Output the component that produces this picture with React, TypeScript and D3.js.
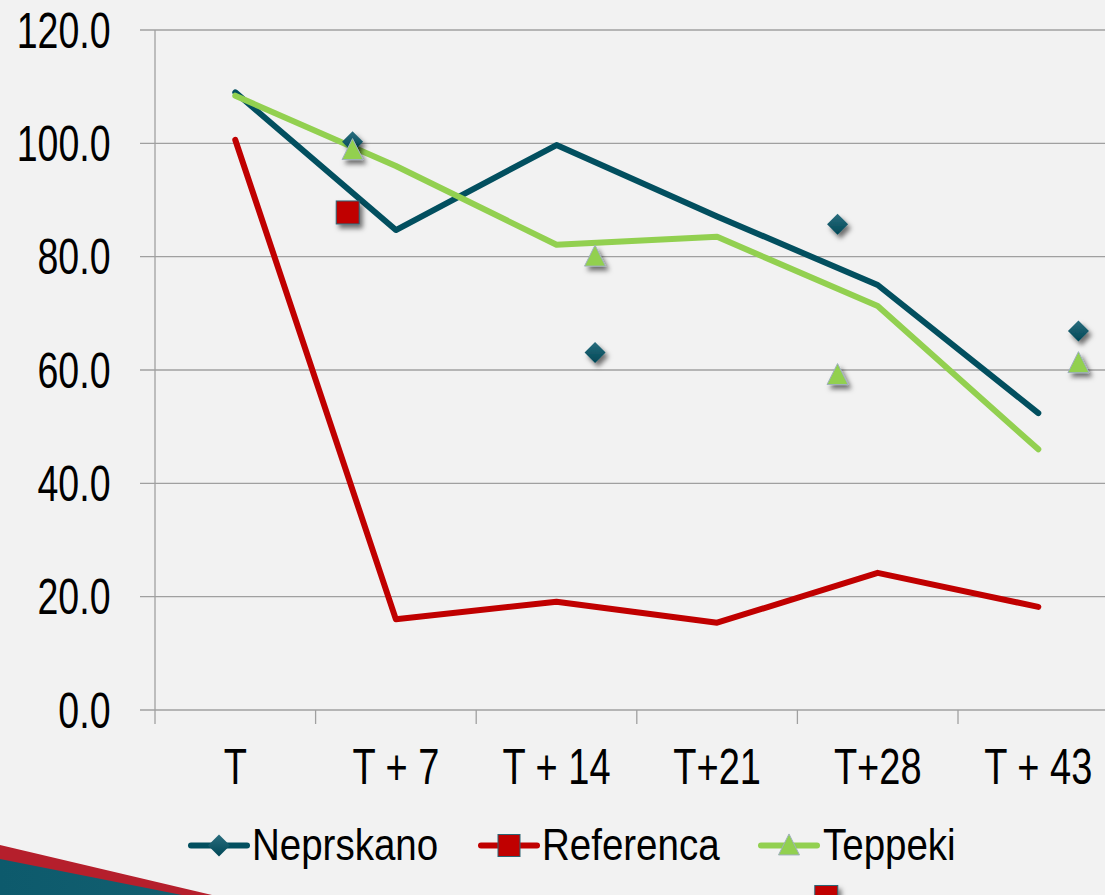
import React from "react";
import * as d3 from "d3";

const categories = ["T", "T + 7", "T + 14", "T+21", "T+28", "T + 43"];
const neprskanoLine = [109.0, 84.7, 99.7, 87.1, 75.0, 52.4];
const referencaLine = [100.6, 16.0, 19.1, 15.4, 24.2, 18.2];
const teppekiLine = [108.4, 96.0, 82.1, 83.5, 71.3, 46.0];

// scatter markers: position in category units (0 = first category centre), value
const neprskanoMarkPos = [0.73, 2.24, 3.75, 5.25];
const neprskanoMarkVal = [100.3, 63.1, 85.7, 66.9];
const referencaMarkPos = [0.7, 3.68];
const referencaMarkVal = [87.8, -33];
const teppekiMarkPos = [0.73, 2.24, 3.75, 5.25];
const teppekiMarkVal = [98.8, 80.0, 59.1, 61.2];

const yTicks = [0, 20, 40, 60, 80, 100, 120];
const legendNames = ["Neprskano", "Referenca", "Teppeki"];

const W = 1105;
const H = 895;
const TEAL = "#024f5f";
const RED = "#c00000";
const GREEN = "#92d050";
const FONT = "'Liberation Sans', Arial, sans-serif";

export default function App() {
  const x0 = 155;
  const bandW = 160.6;
  const x = d3
    .scaleBand<string>()
    .domain(categories)
    .range([x0, x0 + bandW * categories.length])
    .paddingInner(0)
    .paddingOuter(0);
  const xi = d3
    .scaleLinear()
    .domain([0, categories.length - 1])
    .range([x(categories[0])! + bandW / 2, x(categories[categories.length - 1])! + bandW / 2]);
  const y = d3.scaleLinear().domain([0, 120]).range([710, 30]);

  const line = d3
    .line<number>()
    .x((_, i) => xi(i))
    .y((d) => y(d));

  const diamond = (cx: number, cy: number, r = 10.5) =>
    `M${cx},${cy - r}L${cx + r},${cy}L${cx},${cy + r}L${cx - r},${cy}Z`;
  const triangle = (cx: number, cy: number, s = 21) =>
    `M${cx},${cy - s * 0.55}L${cx + s / 2},${cy + s * 0.45}L${cx - s / 2},${cy + s * 0.45}Z`;

  const boundaries = d3.range(categories.length + 1).map((i) => x0 + i * bandW);

  const legendItems = [
    { name: legendNames[0], lx: 191, tx: 252, color: TEAL, mark: "diamond" },
    { name: legendNames[1], lx: 481, tx: 542, color: RED, mark: "square" },
    { name: legendNames[2], lx: 761, tx: 823, color: GREEN, mark: "triangle" },
  ];

  return (
    <svg
      width={W}
      height={H}
      style={{ position: "absolute", left: 0, top: 0, display: "block" }}
    >
      <defs>
        <filter id="shadow" x="-60%" y="-60%" width="220%" height="220%">
          <feDropShadow dx="3" dy="4" stdDeviation="2.5" floodColor="#000" floodOpacity="0.55" />
        </filter>
        <linearGradient id="dgrad" x1="0" y1="0" x2="0" y2="1">
          <stop offset="0" stopColor="#2a6d7e" />
          <stop offset="1" stopColor="#004756" />
        </linearGradient>
        <linearGradient id="tealband" x1="0" y1="0" x2="1" y2="0">
          <stop offset="0" stopColor="#0d5a6c" />
          <stop offset="1" stopColor="#125f70" />
        </linearGradient>
      </defs>
      <rect x={0} y={0} width={W} height={H} fill="#f2f2f2" />

      {/* decorative corner */}
      <path d="M0,845L212,895L0,895Z" fill="#b51f2c" />
      <path d="M0,859L182,895L0,895Z" fill="url(#tealband)" />

      {/* gridlines */}
      {yTicks.map((t) => (
        <line
          key={t}
          x1={140}
          x2={W}
          y1={y(t)}
          y2={y(t)}
          stroke="#a0a0a0"
          strokeWidth={1.3}
        />
      ))}
      {/* y axis */}
      <line x1={x0} x2={x0} y1={y(120)} y2={y(0)} stroke="#a0a0a0" strokeWidth={1.3} />
      {/* x ticks */}
      {boundaries.map((bx, i) => (
        <line key={i} x1={bx} x2={bx} y1={y(0)} y2={y(0) + 14} stroke="#a0a0a0" strokeWidth={1.3} />
      ))}

      {/* y labels */}
      {yTicks.map((t) => (
        <text
          key={t}
          transform={`translate(110.5,${y(t) + 17.5}) scale(0.75,1)`}
          textAnchor="end"
          fontFamily={FONT}
          fontSize={50}
          fill="#000"
        >
          {t.toFixed(1)}
        </text>
      ))}
      {/* x labels */}
      {categories.map((c) => (
        <text
          key={c}
          transform={`translate(${x(c)! + bandW / 2},784) scale(0.76,1)`}
          textAnchor="middle"
          fontFamily={FONT}
          fontSize={50}
          fill="#000"
        >
          {c}
        </text>
      ))}

      {/* lines */}
      <path d={line(neprskanoLine)!} fill="none" stroke={TEAL} strokeWidth={6} strokeLinejoin="round" strokeLinecap="round" />
      <path d={line(referencaLine)!} fill="none" stroke={RED} strokeWidth={6} strokeLinejoin="round" strokeLinecap="round" />
      <path d={line(teppekiLine)!} fill="none" stroke={GREEN} strokeWidth={6} strokeLinejoin="round" strokeLinecap="round" />

      {/* markers */}
      <g filter="url(#shadow)">
        {neprskanoMarkPos.map((p, i) => (
          <path key={"n" + i} d={diamond(xi(p), y(neprskanoMarkVal[i]))} fill="url(#dgrad)" />
        ))}
      </g>
      <g filter="url(#shadow)">
        {referencaMarkPos.map((p, i) => (
          <rect
            key={"r" + i}
            x={xi(p) - 11.5}
            y={y(referencaMarkVal[i]) - 11.5}
            width={23}
            height={23}
            fill={RED}
            stroke="#2b6575"
            strokeWidth={1}
          />
        ))}
      </g>
      <g filter="url(#shadow)">
        {teppekiMarkPos.map((p, i) => (
          <path
            key={"t" + i}
            d={triangle(xi(p), y(teppekiMarkVal[i]))}
            fill={GREEN}
            stroke="#9fb0bd"
            strokeWidth={1}
          />
        ))}
      </g>

      {/* legend */}
      {legendItems.map((it) => {
        const ly = 845.5;
        const cx = it.lx + 28;
        return (
          <g key={it.name}>
            <line x1={it.lx} x2={it.lx + 56} y1={ly} y2={ly} stroke={it.color} strokeWidth={6} strokeLinecap="round" />
            {it.mark === "diamond" && <path d={diamond(cx, ly, 11)} fill="url(#dgrad)" />}
            {it.mark === "square" && (
              <rect x={cx - 11} y={ly - 11} width={22} height={22} fill={RED} stroke="#2b6575" strokeWidth={1} />
            )}
            {it.mark === "triangle" && (
              <path d={triangle(cx, ly, 21)} fill={GREEN} stroke="#9fb0bd" strokeWidth={1} />
            )}
            <text
              transform={`translate(${it.tx},860) scale(0.875,1)`}
              fontFamily={FONT}
              fontSize={44}
              fill="#000"
            >
              {it.name}
            </text>
          </g>
        );
      })}
    </svg>
  );
}
